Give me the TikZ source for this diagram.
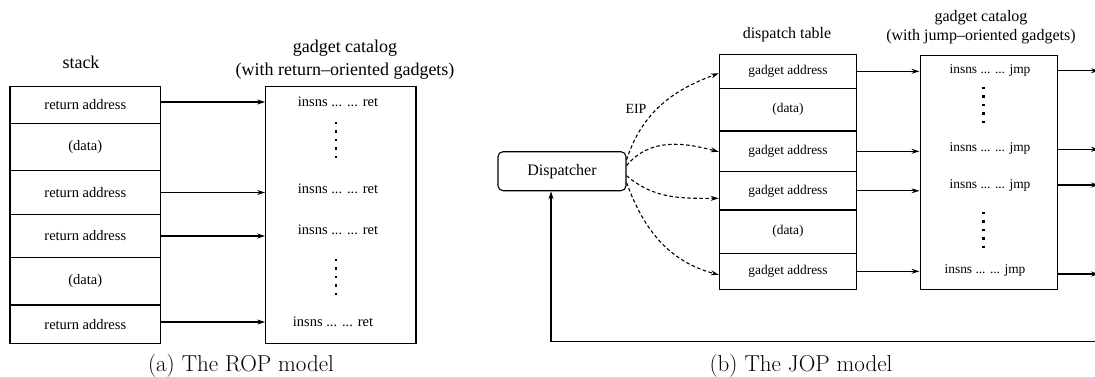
\documentclass[tikz,border=0pt]{standalone}
\usepackage{fontspec}
\newfontfamily\tms{Liberation Serif}
\usetikzlibrary{arrows.meta,calc}

\tikzset{
  cell/.style={draw, line width=1.1pt, inner sep=0pt, font=\tms\fontsize{14.5}{16}\selectfont},
  jcell/.style={draw, line width=1.1pt, inner sep=0pt, font=\tms\fontsize{13.4}{15}\selectfont},
  catbox/.style={draw, line width=1.1pt, inner sep=0pt},
  insn/.style={inner sep=0pt, font=\tms\fontsize{14.5}{16}\selectfont},
  jinsn/.style={inner sep=0pt, font=\tms\fontsize{13.4}{15}\selectfont},
  head/.style={inner sep=0pt, align=center, font=\tms\fontsize{18}{23}\selectfont},
  jhead/.style={inner sep=0pt, align=center, font=\tms\fontsize{16}{19}\selectfont},
  caption/.style={inner sep=0pt, font=\fontsize{23}{26}\selectfont},
  arr/.style={line width=1.1pt, -{Stealth[length=8pt,width=5pt]}},
  darr/.style={line width=1.1pt, dash pattern=on 3.5pt off 2.5pt, -{Stealth[length=8pt,width=5pt]}},
  vdots/.style={line width=2.4pt, dash pattern=on 2.4pt off 6pt},
}

\begin{document}
\begin{tikzpicture}[x=1pt,y=-1pt]
\useasboundingbox (0,0) rectangle (1095,376);

% ---------------- return-oriented programming ----------------
\node[head] (stackhd) at (81,62) {stack};
\node[cell, minimum width=150.7pt, minimum height=36.6pt] (s1) at (85.3,105)   {return address};
\node[cell, minimum width=150.7pt, minimum height=47.4pt] (s2) at (85.3,147)   {(data)};
\node[cell, minimum width=150.7pt, minimum height=43.6pt] (s3) at (85.3,192.5) {return address};
\node[cell, minimum width=150.7pt, minimum height=43.4pt] (s4) at (85.3,236)   {return address};
\node[cell, minimum width=150.7pt, minimum height=47.3pt] (s5) at (85.3,281.3) {(data)};
\node[cell, minimum width=150.7pt, minimum height=38.3pt] (s6) at (85.3,324.2) {return address};

\node[head] (rophd) at (345,60) {gadget catalog\\(with return\textendash oriented gadgets)};
\node[catbox, minimum width=150.3pt, minimum height=256.6pt] (rcat) at (340.8,215) {};
\node[insn] (r1) at (338,102) {insns ... ... ret};
\node[insn] (r2) at (338,189) {insns ... ... ret};
\node[insn] (r3) at (338,230) {insns ... ... ret};
\node[insn] (r4) at (333,322) {insns ... ... ret};
\draw[vdots] (335.7,122) -- (335.7,158);
\draw[vdots] (335.7,259) -- (335.7,295);

\draw[arr] (r1 -| s1.east) -- (r1 -| rcat.west);
\draw[arr] (s3.east) -- (s3.east -| rcat.west);
\draw[arr] (s4.east) -- (s4.east -| rcat.west);
\draw[arr] (r4 -| s6.east) -- (r4 -| rcat.west);

\node[caption] (capa) at (241,366) {(a) The ROP model};

% ---------------- jump-oriented programming ----------------
\node[draw, line width=1.1pt, rounded corners=5pt, minimum width=128pt, minimum height=39pt,
      inner sep=0pt, font=\tms\fontsize{16}{18}\selectfont] (disp) at (562,171.2) {Dispatcher};

\node[jhead] (dthd) at (787,35) {dispatch table};
\node[jcell, minimum width=137.4pt, minimum height=34pt]   (t1) at (788,71.3)  {gadget address};
\node[jcell, minimum width=137.4pt, minimum height=42.7pt] (t2) at (788,109.7) {(data)};
\node[jcell, minimum width=137.4pt, minimum height=40.7pt] (t3) at (788,151.3) {gadget address};
\node[jcell, minimum width=137.4pt, minimum height=38.3pt] (t4) at (788,190.8) {gadget address};
\node[jcell, minimum width=137.4pt, minimum height=43.3pt] (t5) at (788,231.7) {(data)};
\node[jcell, minimum width=137.4pt, minimum height=36pt]   (t6) at (788,271.3) {gadget address};

\node[jhead] (jophd) at (981,27.5) {gadget catalog\\(with jump\textendash oriented gadgets)};
\node[catbox, minimum width=137.3pt, minimum height=234.3pt] (jcat) at (988.7,172.2) {};
\node[jinsn] (j1) at (990,70)    {insns ... ... jmp};
\node[jinsn] (j2) at (990,148.5) {insns ... ... jmp};
\node[jinsn] (j3) at (990,185.5) {insns ... ... jmp};
\node[jinsn] (j4) at (985,270)   {insns ... ... jmp};
\draw[vdots] (983.3,87) -- (983.3,123);
\draw[vdots] (983.3,212) -- (983.3,248);

% dispatcher selects the next table entry
\node[inner sep=0pt, font=\tms\fontsize{14}{16}\selectfont] (eip) at (636,109) {EIP};
\draw[darr] (disp.10) to[out=72, in=200] ($(t1.west)+(0,2)$);
\draw[darr] (disp.5) to[out=50, in=165] ($(t3.west)+(0,0.5)$);
\draw[darr] (disp.-4) to[out=-40, in=180] ($(t4.west)+(0,7.5)$);
\draw[darr] (disp.-10) to[out=-70, in=165] ($(t6.west)+(0,3.5)$);

% table entries point into the catalog
\draw[arr] (t1.east) -- (t1.east -| jcat.west);
\draw[arr] (t3.east) -- (t3.east -| jcat.west);
\draw[arr] (t4.east) -- (t4.east -| jcat.west);
\draw[arr] (t6.east) -- (t6.east -| jcat.west);

% each gadget ends by jumping back to the dispatcher
\coordinate (o1) at (1099,70.7);
\coordinate (o2) at (1099,149.3);
\coordinate (o3) at (1099,185);
\coordinate (o4) at (1099,274);
\draw[arr] (o1 -| jcat.east) -- (o1);
\draw[arr] (o2 -| jcat.east) -- (o2);
\draw[arr] (o3 -| jcat.east) -- (o3);
\draw[arr] (o4 -| jcat.east) -- (o4);

\coordinate (fb) at (1100,341.7);
\coordinate (fc) at (551,341.7);
\draw[arr] (fb) -- (fc) -- (fc |- disp.south);

\node[caption] (capb) at (801,366) {(b) The JOP model};
\end{tikzpicture}
\end{document}
